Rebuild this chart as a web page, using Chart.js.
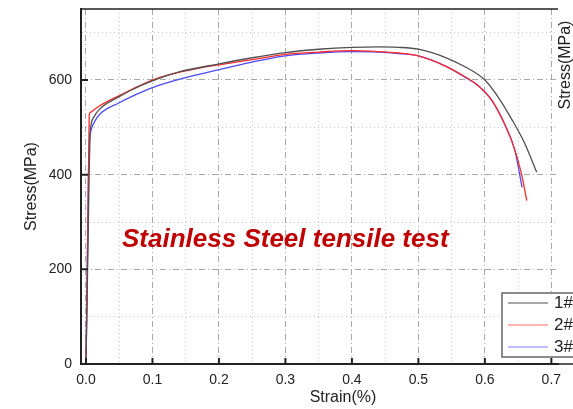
<!DOCTYPE html>
<html>
<head>
<meta charset="utf-8">
<script src="https://cdn.jsdelivr.net/npm/chart.js@4.4.1/dist/chart.umd.min.js"></script>
<style>
  html, body { margin: 0; padding: 0; background: #fff; overflow: hidden; }
  canvas { display: block; }
</style>
</head>
<body>
<canvas id="chart" width="573" height="409"></canvas>
<script>
// sample labels
const labels = ['1#', '2#', '3#'];

// 1# (strain %, stress MPa)
const strain1 = [0, 0.003, 0.005, 0.006, 0.008, 0.012, 0.02, 0.05, 0.07, 0.1, 0.14, 0.2, 0.25, 0.3, 0.35, 0.4, 0.44, 0.47, 0.5, 0.54, 0.57, 0.6, 0.62, 0.64, 0.66, 0.678];
const stress1 = [0, 250, 420, 480, 508, 522, 538, 565, 580, 598, 617, 634, 647, 658, 665, 669, 670, 669, 665, 648, 628, 600, 564, 518, 466, 405];

// 2#
const strain2 = [0, 0.002, 0.004, 0.005, 0.007, 0.012, 0.02, 0.05, 0.07, 0.1, 0.12, 0.17, 0.2, 0.25, 0.3, 0.35, 0.4, 0.44, 0.47, 0.5, 0.54, 0.57, 0.59, 0.61, 0.63, 0.645, 0.655, 0.663];
const stress2 = [0, 200, 420, 528, 532, 537, 545, 567, 581, 600, 609, 625, 632, 643, 654, 659, 662, 660, 657, 651, 630, 607, 588, 558, 506, 453, 402, 345];

// 3#
const strain3 = [0, 0.002, 0.004, 0.006, 0.009, 0.013, 0.021, 0.05, 0.07, 0.1, 0.15, 0.2, 0.25, 0.3, 0.35, 0.4, 0.44, 0.47, 0.5, 0.54, 0.57, 0.59, 0.61, 0.63, 0.645, 0.656];
const stress3 = [0, 220, 430, 480, 500, 512, 528, 552, 566, 584, 605, 622, 638, 651, 657, 660, 659, 656, 651, 630, 606, 588, 558, 506, 452, 373];

const colors = ['#505050', '#ff2a2a', '#4a4aff'];
const legendColors = ['#8a8a8a', '#ff9a9a', '#a8a8ff'];

const xMajor = v => Math.round(v * 100) % 10 === 0;
const yMajor = v => Math.round(v) % 200 === 0;

function pairs(xs, ys) {
    return xs.map((x, i) => ({ x: x, y: ys[i] }));
}

const font = "'Liberation Sans', Arial, sans-serif";

const extras = {
    id: 'extras',
    afterDraw(chart) {
        const ctx = chart.ctx;
        const area = chart.chartArea;
        const xs = chart.scales.x;
        const ys = chart.scales.y;
        ctx.save();

        // top frame line + bottom axis running on to the edge
        ctx.strokeStyle = '#222';
        ctx.lineWidth = 1.5;
        ctx.beginPath();
        ctx.moveTo(area.left, area.top);
        ctx.lineTo(area.right, area.top);
        ctx.moveTo(area.right, area.bottom);
        ctx.lineTo(chart.width, area.bottom);
        ctx.stroke();

        // inward major ticks
        ctx.lineWidth = 2;
        ctx.beginPath();
        xs.ticks.forEach(t => {
            if (!xMajor(t.value)) return;
            const px = xs.getPixelForValue(t.value);
            ctx.moveTo(px, area.bottom);
            ctx.lineTo(px, area.bottom - 6);
        });
        ys.ticks.forEach(t => {
            if (!yMajor(t.value)) return;
            const py = ys.getPixelForValue(t.value);
            ctx.moveTo(area.left, py);
            ctx.lineTo(area.left + 7, py);
        });
        ctx.stroke();

        // overlay title
        ctx.fillStyle = '#c00000';
        ctx.font = 'italic bold 26px ' + font;
        ctx.textAlign = 'left';
        ctx.textBaseline = 'alphabetic';
        ctx.fillText('Stainless Steel tensile test', 122, 247);

        // x axis title
        ctx.fillStyle = '#222';
        ctx.font = '16px ' + font;
        ctx.textAlign = 'center';
        ctx.textBaseline = 'middle';
        ctx.fillText('Strain(%)', 343, 398);

        // right axis title (cut by the edge)
        ctx.save();
        ctx.translate(570, 65);
        ctx.rotate(-Math.PI / 2);
        ctx.textBaseline = 'alphabetic';
        ctx.fillText('Stress(MPa)', 0, 0);
        ctx.restore();

        // legend
        const bx = 502, by = 293, bw = 90, bh = 64;
        ctx.fillStyle = '#fff';
        ctx.fillRect(bx, by, bw, bh);
        ctx.strokeStyle = '#666';
        ctx.lineWidth = 1.5;
        ctx.strokeRect(bx, by, bw, bh);
        ctx.font = '17px ' + font;
        ctx.textAlign = 'left';
        ctx.textBaseline = 'middle';
        chart.data.datasets.forEach((ds, i) => {
            const ly = 303 + i * 22;
            ctx.strokeStyle = legendColors[i];
            ctx.lineWidth = 1.5;
            ctx.beginPath();
            ctx.moveTo(508, ly);
            ctx.lineTo(548, ly);
            ctx.stroke();
            ctx.fillStyle = '#222';
            ctx.fillText(ds.label, 554, ly);
        });

        ctx.restore();
    }
};

new Chart(document.getElementById('chart'), {
    type: 'scatter',
    data: {
        datasets: [
            { label: labels[0], data: pairs(strain1, stress1) },
            { label: labels[1], data: pairs(strain2, stress2) },
            { label: labels[2], data: pairs(strain3, stress3) }
        ].map((d, i) => Object.assign(d, {
            showLine: true,
            borderColor: colors[i],
            backgroundColor: colors[i],
            borderWidth: 1.3,
            pointRadius: 0,
            cubicInterpolationMode: 'monotone'
        }))
    },
    options: {
        responsive: false,
        animation: false,
        devicePixelRatio: 1,
        layout: { padding: { left: 0, top: 9, right: 15, bottom: 0 } },
        plugins: {
            legend: { display: false },
            tooltip: { enabled: false }
        },
        scales: {
            x: {
                type: 'linear',
                min: -0.0075,
                max: 0.71,
                afterFit: s => { s.height = 45; s.paddingLeft = 0; s.paddingRight = 0; },
                border: {
                    color: '#222',
                    width: 2,
                    dash: c => (c.tick ? (xMajor(c.tick.value) ? [6, 3, 1, 3] : [1, 3]) : [])
                },
                grid: {
                    drawTicks: false,
                    color: c => (c.tick && xMajor(c.tick.value) ? '#a8a8a8' : '#c4c4c4'),
                    lineWidth: 1
                },
                ticks: {
                    stepSize: 0.05,
                    includeBounds: false,
                    autoSkip: false,
                    maxRotation: 0,
                    padding: 8,
                    color: '#222',
                    font: { family: font, size: 14 },
                    callback: v => (xMajor(v) ? v.toFixed(1) : '')
                }
            },
            y: {
                min: 0,
                max: 750,
                afterFit: s => { s.width = 81; s.paddingTop = 0; s.paddingBottom = 0; },
                border: {
                    color: '#222',
                    width: 2,
                    dash: c => (c.tick ? (yMajor(c.tick.value) ? [6, 3, 1, 3] : [1, 3]) : [])
                },
                grid: {
                    drawTicks: false,
                    color: c => (c.tick && yMajor(c.tick.value) ? '#a8a8a8' : '#c4c4c4'),
                    lineWidth: 1
                },
                ticks: {
                    stepSize: 100,
                    includeBounds: false,
                    autoSkip: false,
                    padding: 9,
                    color: '#222',
                    font: { family: font, size: 14 },
                    callback: v => (yMajor(v) ? String(v) : '')
                },
                title: {
                    display: true,
                    text: 'Stress(MPa)',
                    color: '#222',
                    font: { family: font, size: 16 },
                    padding: { top: 22, bottom: 0 }
                }
            }
        }
    },
    plugins: [extras]
});
</script>
</body>
</html>
